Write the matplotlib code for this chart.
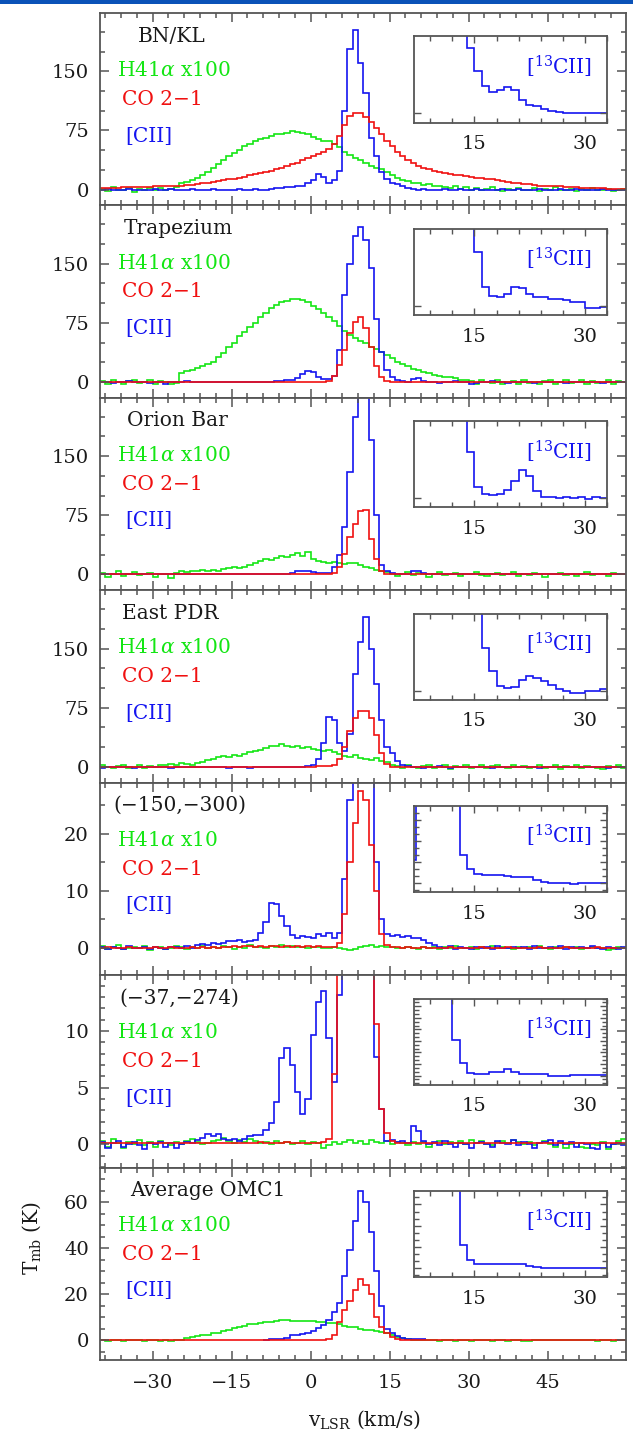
import numpy as np
import matplotlib.pyplot as plt
from matplotlib.ticker import MultipleLocator
from matplotlib.patches import Rectangle

plt.rcParams['font.family'] = ['DejaVu Serif']
plt.rcParams['mathtext.fontset'] = 'dejavuserif'

# channel edges in km/s (1 km/s channels)
vel_edges = np.arange(-40, 61)
inset_edges = np.arange(6, 34)

# ---------------- BN/KL ----------------
bnkl_h41 = [1, -2, 3, 0, -1, 2, -3, 1, 0, 2,
            -1, 2, 0, 1, 3, 8, 10, 12, 15, 18,
            22, 27, 33, 38, 43, 46, 50, 55, 58, 62,
            64, 66, 68, 70, 71, 72, 74, 73, 72, 70,
            67, 64, 62, 62, 58, 54, 48, 44, 40, 38,
            34, 30, 28, 26, 22, 18, 15, 12, 11, 9,
            8, 6, 7, 4, 5, 3, 2, 4, 1, 3,
            0, 2, -1, 1, 3, 0, -2, 1, 0, 2,
            -1, 0, 2, -2, 1, 0, 3, -1, 0, 1,
            -2, 1, 0, 2, -1, 0, 1, -2, 0, 1]
bnkl_co = [2, 2, 2, 2, 3, 3, 3, 3, 3, 3,
           4, 4, 4, 5, 5, 5, 6, 6, 7, 8,
           9, 10, 11, 12, 13, 14, 15, 16, 18, 20,
           21, 22, 24, 26, 28, 30, 32, 34, 37, 40,
           42, 45, 48, 52, 58, 68, 82, 93, 97, 97,
           92, 86, 78, 70, 62, 55, 48, 42, 38, 34,
           30, 28, 26, 24, 22, 21, 20, 19, 18, 17,
           16, 15, 15, 14, 13, 12, 11, 10, 9, 8,
           7, 7, 6, 5, 5, 4, 4, 4, 3, 3,
           3, 2, 2, 2, 2, 2, 1, 1, 1, 1]
bnkl_cii = [0, 1, 0, -1, 0, 1, 0, 0, -1, 0,
            1, 0, 0, 1, -1, 0, 0, 1, 0, 0,
            0, 1, 0, 0, -1, 0, 1, 0, 0, 1,
            0, 0, 1, 2, 2, 3, 3, 4, 5, 8,
            12, 20, 16, 8, 12, 24, 100, 178, 203, 160,
            122, 65, 42, 22, 13, 8, 7, 4, 2, 1,
            0, 1, 0, -1, 0, 1, 0, 0, 1, -1,
            0, 1, 0, 0, -1, 0, 1, 0, 0, 1,
            0, -1, 0, 1, 0, 0, -1, 1, 0, 0,
            1, 0, 0, -1, 0, 1, 0, 0, -1, 0]
bnkl_c13 = [100, 178, 203, 160, 122, 65, 42, 22, 8.5, 5.5,
            3.6, 2.8, 3.0, 3.4, 3.0, 1.8, 1.1, 0.9, 0.6, 0.3,
            0.2, 0.1, 0.1, 0.0, 0.1, 0.05, 0.1]

# ---------------- Trapezium ----------------
trap_h41 = [1, -2, 2, 0, -3, 1, 2, -1, 0, 3,
            -2, 1, 0, -3, -1, 12, 14, 15, 18, 20,
            23, 25, 32, 37, 44, 50, 58, 64, 70, 75,
            82, 88, 94, 98, 101, 103, 105, 105, 104, 101,
            97, 92, 87, 83, 77, 71, 65, 60, 56, 52,
            49, 45, 42, 38, 34, 30, 26, 23, 20, 17,
            15, 13, 11, 9, 8, 7, 6, 5, 3, 2,
            1, -2, 2, 0, -1, 3, -2, 0, 1, -3,
            2, -1, 0, -3, 1, 2, -2, 0, 3, -1,
            0, 2, -2, 1, -1, 0, 3, -2, 1, 0]
trap_co = [0, 0, 0, 0, 0, 0, 0, 0, 0, 0,
           0, 0, 0, 0, 0, 0, 0, 0, 0, 0,
           0, 0, 0, 0, 0, 0, 0, 0, 0, 0,
           0, 0, 0, 0, 0, 0, 0, 0, 0, 0,
           0, 0, 0, 1, 8, 22, 40, 62, 76, 82,
           68, 45, 20, 7, 1, 0, 0, 0, 0, 0,
           0, 0, 0, 0, 0, 0, 0, 0, 0, 0,
           0, 0, 0, 0, 0, 0, 0, 0, 0, 0,
           0, 0, 0, 0, 0, 0, 0, 0, 0, 0,
           0, 0, 0, 0, 0, 0, 0, 0, 0, 0]
trap_cii = [0, 0, -1, 0, 0, 1, 0, 0, 0, -1,
            0, 0, -2, 0, 0, 0, 1, 0, 0, 0,
            0, 0, 0, 0, 0, 0, 0, 0, 0, 0,
            0, 0, 0, 1, 1, 2, 3, 5, 10, 14,
            13, 6, 4, 4, 8, 40, 110, 150, 185, 196,
            180, 145, 80, 38, 15, 7, 2, 1, 0, 4,
            5, 1, 0, 0, -1, 0, 0, 1, 0, 0,
            -2, -1, 0, 0, 1, 0, 0, -1, 0, 0,
            0, 0, -1, 0, 0, 0, 0, 0, -1, 0,
            0, 0, 0, 0, 0, -1, 0, 0, 0, 0]
trap_c13 = [110, 150, 185, 196, 180, 145, 80, 38, 12, 7.0,
            2.5, 1.3, 1.2, 1.6, 2.5, 2.3, 1.6, 1.2, 1.1, 0.9,
            0.85, 0.8, 0.55, 0.5, -0.3, -0.3, -0.1]

# ---------------- Orion Bar ----------------
bar_h41 = [2, -3, 0, 4, -2, 1, 3, -1, 0, 2,
           -3, 0, 1, -4, 2, 5, 3, 5, 4, 6,
           5, 6, 4, 7, 8, 9, 8, 10, 12, 14,
           17, 19, 18, 21, 24, 22, 25, 27, 23, 28,
           20, 17, 16, 15, 16, 14, 13, 15, 14, 12,
           10, 8, 6, 5, 3, 1, -2, 0, 3, -1,
           2, 0, -3, 1, 3, -1, 0, 2, -2, 1,
           0, 3, -1, -2, 1, 2, -1, 0, 3, -2,
           1, -1, 2, 0, -3, 1, 0, 2, -1, 1,
           -2, 0, 3, -1, 1, 0, -2, 2, 0, 1]
bar_co = [0, 0, 0, 0, 0, 0, 0, 0, 0, 0,
          0, 0, 0, 0, 0, 0, 0, 0, 0, 0,
          0, 0, 0, 0, 0, 0, 0, 0, 0, 0,
          0, 0, 0, 0, 0, 0, 0, 0, 0, 0,
          0, 0, 0, 0, 2, 9, 26, 47, 64, 80,
          82, 45, 20, 4, 0, 0, 0, 0, 0, 0,
          0, 0, 0, 0, 0, 0, 0, 0, 0, 0,
          0, 0, 0, 0, 0, 0, 0, 0, 0, 0,
          0, 0, 0, 0, 0, 0, 0, 0, 0, 0,
          0, 0, 0, 0, 0, 0, 0, 0, 0, 0]
bar_cii = [0, 0, 0, 0, 0, 0, 0, 0, 0, 0,
           0, 0, 0, 0, 0, 0, 0, 0, 0, 0,
           0, 0, 0, 0, 0, 0, 0, 0, 0, 0,
           0, 0, 0, 0, 0, 1, 2, 4, 5, 5,
           3, 2, 2, 2, 9, 25, 60, 130, 200, 300,
           320, 170, 75, 12, 5, 2, 1, 0, 0, 4,
           5, 2, 0, 0, 0, 0, 0, 0, 0, 0,
           0, 0, 0, 0, 0, 0, 0, 0, 0, 0,
           0, 0, 0, 0, 0, 0, 0, 0, 0, 0,
           0, 0, 0, 0, 0, 0, 0, 0, 0, 0]
bar_c13 = [60, 130, 200, 300, 320, 170, 75, 12, 6.0, 1.5,
           0.6, 0.45, 0.5, 1.1, 2.2, 3.7, 2.9, 1.0, 0.1, 0.2,
           0.0, 0.15, 0.0, 0.1, -0.1, 0.1, 0.0]

# ---------------- East PDR ----------------
east_h41 = [2, 0, -2, 1, 3, -1, 0, 2, -2, 1,
            0, 3, 2, 4, 3, 5, 4, 3, 5, 6,
            9, 10, 12, 14, 13, 15, 14, 16, 19, 20,
            21, 24, 27, 26, 29, 27, 25, 26, 24, 25,
            23, 22, 20, 21, 19, 16, 14, 13, 15, 11,
            10, 9, 11, 8, 6, 3, 1, -1, 2, 0,
            -2, 1, 3, -1, 0, 2, -3, 1, 0, 2,
            -1, 0, 2, -2, 1, 3, 0, -1, 2, 0,
            1, -2, 0, 3, -1, 0, 2, -3, 1, 0,
            2, -1, 1, 0, -2, -3, 1, 0, 2, -1]
east_co = [0, 0, 0, 0, 0, 0, 0, 0, 0, 0,
           0, 0, 0, 0, 0, 0, 0, 0, 0, 0,
           0, 0, 0, 0, 0, 0, 0, 0, 0, 0,
           0, 0, 0, 0, 0, 0, 0, 0, 0, 0,
           0, 1, 1, 1, 3, 10, 25, 45, 62, 71,
           71, 62, 40, 18, 4, 0, 0, 0, 0, 0,
           0, 0, 0, 0, 0, 0, 0, 0, 0, 0,
           0, 0, 0, 0, 0, 0, 0, 0, 0, 0,
           0, 0, 0, 0, 0, 0, 0, 0, 0, 0,
           0, 0, 0, 0, 0, 0, 0, 0, 0, 0]
east_cii = [-1, 0, 0, 0, 0, 0, -1, 0, 0, 0,
            0, 0, 0, -1, 0, 0, 0, 0, 0, 0,
            0, 0, 0, 0, -1, 0, 0, 0, -1, 0,
            0, 0, 0, 0, 0, 0, 0, 0, 0, 1,
            3, 10, 30, 63, 60, 30, 20, 42, 118, 158,
            190, 150, 105, 60, 25, 18, 7, 2, 1, 0,
            0, -1, 0, 0, 1, 0, -1, 0, 0, 0,
            0, 0, 0, 0, -1, 0, 0, 0, 0, 0,
            0, 0, 0, -1, 0, 0, 0, 0, 0, 0,
            0, 0, 0, 0, 0, 0, -1, 0, 0, 0]
east_c13 = [20, 42, 118, 158, 190, 150, 105, 60, 25, 12,
            5.5, 2.6, 0.6, 0.3, 0.5, 1.4, 1.9, 1.6, 1.3, 0.8,
            0.2, 0.0, -0.3, -0.3, -0.1, 0.0, 0.2]

# ---------------- (-150,-300) ----------------
p150_h41 = [0.3, -0.2, 0.1, 0.4, -0.3, 0.0, 0.2, -0.1, 0.3, -0.4,
            0.1, 0.2, -0.3, 0.0, 0.3, 0.1, -0.2, 0.2, 0.0, 0.3,
            -0.1, 0.2, 0.0, 0.3, 0.1, -0.2, 0.2, 0.0, 0.4, 0.1,
            0.2, 0.0, 0.3, 0.1, 0.4, 0.2, 0.3, 0.1, 0.2, 0.0,
            0.1, 0.2, 0.0, -0.1, 0.1, 0.0, -0.3, -0.4, -0.2, 0.1,
            0.3, 0.4, 0.2, 0.3, 0.1, 0.2, 0.0, -0.1, 0.2, 0.0,
            -0.2, 0.1, 0.0, 0.2, -0.3, 0.1, 0.0, 0.3, -0.1, 0.0,
            0.2, -0.2, 0.1, 0.0, 0.3, -0.1, 0.2, 0.0, -0.3, 0.1,
            0.0, 0.2, -0.1, 0.3, 0.0, -0.2, 0.1, 0.0, 0.2, -0.1,
            0.1, -0.3, 0.0, 0.2, -0.1, 0.0, -0.4, -0.2, 0.1, 0.0]
p150_co = [0.0, 0.1, 0.0, -0.1, 0.0, 0.1, 0.0, 0.0, -0.1, 0.0,
           0.1, 0.0, 0.0, 0.1, -0.1, 0.0, 0.0, 0.1, 0.0, 0.1,
           0.0, 0.1, 0.0, 0.2, 0.1, 0.3, 0.2, 0.3, 0.3, 0.2,
           0.3, 0.2, 0.3, 0.3, 0.2, 0.3, 0.2, 0.3, 0.2, 0.3,
           0.2, 0.3, 0.2, 0.1, 0.2, 0.8, 6.0, 15.0, 22.0, 27.5,
           26.0, 18.0, 10.0, 2.5, 0.5, 0.2, 0.1, 0.0, 0.1, 0.0,
           0.0, 0.1, 0.0, -0.1, 0.0, 0.0, 0.1, 0.0, 0.0, -0.1,
           0.0, 0.0, 0.1, 0.0, -0.1, 0.0, 0.0, 0.1, 0.0, 0.0,
           -0.1, 0.0, 0.0, 0.1, 0.0, 0.0, -0.1, 0.0, 0.1, 0.0,
           0.0, -0.1, 0.0, 0.0, 0.1, 0.0, 0.0, -0.1, 0.0, 0.0]
p150_cii = [0.2, -0.3, 0.1, 0.0, -0.2, 0.3, 0.0, -0.1, 0.2, -0.3,
            0.1, 0.0, -0.2, 0.2, 0.1, -0.1, 0.3, 0.0, 0.4, 0.6,
            0.5, 0.8, 0.6, 0.9, 1.2, 1.1, 1.3, 1.0, 1.2, 1.4,
            2.6, 4.5, 7.8, 7.6, 5.5, 3.8, 2.3, 1.8, 2.0, 1.9,
            1.8, 2.4, 2.1, 2.6, 1.7, 2.6, 12.0, 26.0, 40.0, 44.0,
            42.0, 32.0, 15.0, 5.0, 2.5, 2.0, 2.2, 1.9, 2.1, 1.8,
            1.7, 1.4, 0.8, 0.5, 0.2, 0.0, 0.3, -0.2, 0.1, 0.0,
            -0.3, 0.2, 0.0, 0.1, -0.2, 0.3, 0.0, -0.1, 0.2, 0.0,
            0.1, -0.2, 0.3, 0.0, -0.1, 0.2, 0.0, 0.3, -0.2, 0.1,
            0.0, 0.2, -0.1, 0.3, 0.0, -0.2, 0.1, 0.0, -0.3, 0.2]
p150_c13 = [3.0, 26, 40, 44, 42, 32, 11, 3.6, 1.8, 1.2,
            1.0, 1.0, 1.0, 0.9, 0.8, 0.8, 0.8, 0.4, 0.1, 0.0,
            0.05, 0.0, -0.1, 0.0, 0.05, 0.0, 0.05]

# ---------------- (-37,-274) ----------------
p37_h41 = [0.3, -0.2, 0.5, 0.1, -0.3, 0.2, 0.0, 0.4, -0.1, 0.2,
           -0.2, 0.3, 0.1, -0.1, 0.2, 0.0, 0.3, 0.5, 0.2, 0.0,
           0.1, 0.3, 0.4, 0.6, 0.3, 0.1, 0.4, 0.2, 0.5, 0.3,
           0.1, 0.2, 0.0, 0.3, 0.1, 0.2, 0.0, 0.1, 0.3, 0.0,
           0.2, 0.1, -0.3, -0.1, 0.2, 0.0, 0.2, 0.4, 0.1, 0.3,
           0.0, 0.4, 0.2, 0.1, 0.3, 0.0, 0.2, 0.1, -0.1, 0.2,
           0.0, 0.2, -0.2, 0.1, 0.3, 0.0, 0.2, 0.1, 0.3, 0.0,
           0.4, 0.1, 0.3, 0.0, -0.1, 0.2, 0.3, 0.1, 0.4, 0.2,
           0.0, 0.2, -0.1, 0.1, 0.3, 0.0, -0.2, 0.1, -0.3, 0.0,
           0.1, -0.2, -0.3, 0.0, -0.1, 0.2, -0.4, 0.0, 0.3, 0.5]
p37_co = [0.1, 0.1, 0.1, 0.1, 0.1, 0.1, 0.1, 0.1, 0.1, 0.1,
          0.1, 0.1, 0.1, 0.1, 0.1, 0.1, 0.1, 0.1, 0.1, 0.1,
          0.1, 0.1, 0.1, 0.1, 0.1, 0.1, 0.1, 0.1, 0.15, 0.15,
          0.2, 0.15, 0.15, 0.1, 0.15, 0.2, 0.15, 0.15, 0.1, 0.15,
          0.15, 0.15, 0.2, 0.45, 6.2, 30, 55, 70, 75, 72,
          60, 35, 10.6, 3.1, 1.0, 0.3, 0.15, 0.1, 0.1, 0.1,
          0.1, 0.1, 0.1, 0.1, 0.1, 0.1, 0.1, 0.1, 0.1, 0.1,
          0.1, 0.1, 0.1, 0.1, 0.1, 0.1, 0.1, 0.1, 0.1, 0.1,
          0.1, 0.1, 0.1, 0.1, 0.1, 0.1, 0.1, 0.1, 0.1, 0.1,
          0.1, 0.1, 0.1, 0.1, 0.1, 0.1, 0.1, 0.1, 0.1, 0.1]
p37_cii = [0.2, -0.3, 0.1, 0.3, -0.2, 0.0, 0.2, -0.1, -0.4, 0.1,
           0.0, 0.2, -0.2, 0.1, -0.3, 0.0, 0.2, 0.1, 0.4, 0.6,
           0.9, 0.7, 0.9, 0.5, 0.4, 0.5, 0.3, 0.5, 0.7, 0.8,
           0.8, 1.3, 1.9, 3.7, 7.6, 8.5, 7.0, 4.6, 2.7, 4.0,
           9.7, 12.6, 13.5, 9.4, 5.5, 13.2, 30, 60, 80, 90,
           85, 40, 7.7, 3.1, 0.3, 0.4, 0.2, 0.3, 0.1, 1.6,
           1.2, 0.3, 0.0, 0.2, -0.1, 0.3, 0.0, -0.2, 0.1, 0.0,
           -0.3, 0.1, 0.2, 0.0, -0.2, 0.3, 0.1, 0.0, 0.4, -0.1,
           0.2, 0.0, -0.3, 0.1, 0.2, 0.4, -0.1, 0.3, 0.0, 0.2,
           -0.2, 0.1, 0.0, -0.3, -0.4, 0.1, -0.2, 0.0, 0.1, -0.1]
p37_c13 = [30, 55, 70, 75, 72, 50, 4.6, 1.6, 0.3, 0.2,
           0.2, 0.45, 0.5, 0.9, 0.5, 0.2, 0.2, 0.25, 0.2, 0.0,
           0.0, -0.05, 0.1, 0.1, 0.05, 0.1, 0.1]

# ---------------- Average OMC1 ----------------
nan = np.nan
avg_h41 = [0.0, -0.3, 0.0, 0.0, -0.3, 0.0, 0.0, 0.0, -0.3, 0.0,
           0.0, -0.3, 0.0, -0.3, 0.0, 0.3, 1.0, 1.3, 1.8, 2.2,
           2.5, 3.0, 3.4, 4.0, 4.6, 5.3, 6.0, 6.4, 7.0, 7.2,
           7.6, 8.0, 8.0, 8.3, 8.8, 9.0, 8.4, 8.6, 8.2, 8.4,
           8.3, 8.1, 7.8, 7.6, 7.6, 7.2, 6.2, 6.0, 5.8, 4.8,
           4.6, 4.4, 4.2, 3.6, 3.4, 2.5, 1.6, 1.0, 0.5, 0.2,
           0.0, 0.0, 0.2, 0.0, -0.3, 0.0, 0.0, -0.3, 0.0, 0.0,
           -0.3, 0.0, 0.0, 0.0, -0.3, 0.0, 0.0, -0.3, 0.0, 0.0,
           -0.3, -0.3, 0.0, 0.0, 0.0, 0.0, 0.0, 0.0, 0.3, 0.0,
           0.0, 0.0, 0.0, 0.0, -0.3, 0.0, 0.0, -0.3, 0.0, 0.0]
avg_co = [0.0] * 43 + [0.8, 2.5, 8.0, 13.0, 17.0, 22.0, 26.5,
                       24.0, 20.0, 10.0, 6.0, 3.0, 1.5, 0.5] + [0.0] * 43
avg_cii = [nan] * 31 + [0.3, 0.4, 0.6, 0.8, 1.2, 2.3, 2.5, 2.6, 3.2,
                        4.2, 5.4, 6.5, 9.0, 12.5, 16.0, 28.0, 39.0, 52.0, 65.0,
                        60.0, 47.0, 30.0, 15.0, 5.0, 3.0, 1.8, 1.0, 0.8, 0.8,
                        0.8, 0.8] + [nan] * 38
avg_c13 = [28, 39, 52, 65, 60, 47, 14, 3.0, 1.0, 0.5,
           0.45, 0.45, 0.45, 0.5, 0.5, 0.45, 0.2, 0.1, 0, 0,
           0, 0, 0, 0, 0, 0, 0]

names = ['BN/KL', 'Trapezium', 'Orion Bar', 'East PDR',
         '(\u2212150,\u2212300)', '(\u221237,\u2212274)', 'Average OMC1']
h41_labels = ['H41$\\alpha$ x100'] * 4 + ['H41$\\alpha$ x10'] * 2 + ['H41$\\alpha$ x100']
h41_data = [bnkl_h41, trap_h41, bar_h41, east_h41, p150_h41, p37_h41, avg_h41]
co_data = [bnkl_co, trap_co, bar_co, east_co, p150_co, p37_co, avg_co]
cii_data = [bnkl_cii, trap_cii, bar_cii, east_cii, p150_cii, p37_cii, avg_cii]
c13_data = [bnkl_c13, trap_c13, bar_c13, east_c13, p150_c13, p37_c13, avg_c13]

# axis layout per panel: (ymin, ymax, major, minor)
ylims = [(-20, 224, 75, 25), (-20, 224, 75, 25), (-20, 224, 75, 25), (-20, 224, 75, 25),
         (-4.8, 29, 10, 5), (-2.05, 14.95, 5, 1), (-8.5, 75, 20, 5)]
name_x = [0.072, 0.046, 0.052, 0.042, 0.025, 0.036, 0.057]
inset_ystep = [None, None, None, None, 2.75, 1.5, 2.75]

GREEN = '#14e614'
RED = '#f01010'
BLUE = '#1414f0'
FRAME = '#555555'

fig = plt.figure(figsize=(6.33, 14.4), dpi=100)
gs = fig.add_gridspec(7, 1, left=0.158, right=0.989, top=0.991, bottom=0.0556, hspace=0)
axes = [fig.add_subplot(gs[i]) for i in range(7)]

fig.add_artist(Rectangle((0, 1 - 3.5 / 1440), 1, 3.5 / 1440, transform=fig.transFigure,
                         color='#0a52b8', lw=0))

for i, ax in enumerate(axes):
    ax.stairs(h41_data[i], vel_edges, color=GREEN, lw=1.2, baseline=None)
    ax.stairs(cii_data[i], vel_edges, color=BLUE, lw=1.2, baseline=None)
    ax.stairs(co_data[i], vel_edges, color=RED, lw=1.2, baseline=None)

    ymin, ymax, major, minor = ylims[i]
    ax.set_xlim(-40, 59.9)
    ax.set_ylim(ymin, ymax)
    ax.xaxis.set_major_locator(MultipleLocator(15))
    ax.xaxis.set_minor_locator(MultipleLocator(3))
    ax.yaxis.set_major_locator(MultipleLocator(major))
    ax.yaxis.set_minor_locator(MultipleLocator(minor))
    ax.tick_params(which='both', direction='in', top=True, right=True,
                   color=FRAME, width=1.1, labelsize=14, labelcolor='#1a1a1a')
    ax.tick_params(which='major', length=6.5)
    ax.tick_params(which='minor', length=3.5)
    ax.tick_params(axis='y', pad=8)
    ax.tick_params(axis='x', pad=10, labelbottom=(i == 6))
    for s in ax.spines.values():
        s.set_color(FRAME)
        s.set_linewidth(1.3)

    ax.text(name_x[i], 0.88, names[i], transform=ax.transAxes, fontsize=14.5,
            color='#1a1a1a', va='center', ha='left')
    ax.text(0.032, 0.70, h41_labels[i], transform=ax.transAxes, fontsize=14.5,
            color=GREEN, va='center', ha='left')
    ax.text(0.042, 0.55, 'CO 2\u22121', transform=ax.transAxes, fontsize=14.5,
            color=RED, va='center', ha='left')
    ax.text(0.048, 0.36, '[CII]', transform=ax.transAxes, fontsize=14.5,
            color=BLUE, va='center', ha='left')

    ins = ax.inset_axes([0.597, 0.43, 0.367, 0.448])
    ins.set_facecolor('white')
    ins.stairs(c13_data[i], inset_edges, color=BLUE, lw=1.2, baseline=None)
    ins.set_xlim(6.8, 33)
    ins.set_ylim(-1.2, 10)
    ins.set_xticks([15, 30])
    ins.xaxis.set_minor_locator(MultipleLocator(3))
    if inset_ystep[i] is None:
        ins.set_yticks([0])
    else:
        ins.yaxis.set_major_locator(MultipleLocator(inset_ystep[i]))
        ins.yaxis.set_minor_locator(MultipleLocator(inset_ystep[i] / 3))
    ins.tick_params(which='both', direction='in', top=True, right=True, color=FRAME,
                    width=1.0, labelsize=14, labelleft=False, labelright=False,
                    labeltop=False, labelcolor='#1a1a1a')
    ins.tick_params(which='major', length=5)
    ins.tick_params(which='minor', length=3.5)
    ins.tick_params(axis='x', pad=9)
    for s in ins.spines.values():
        s.set_color(FRAME)
        s.set_linewidth(1.3)
    ins.text(0.92, 0.65, '[$^{13}$CII]', transform=ins.transAxes, fontsize=14.5,
             color=BLUE, va='center', ha='right')

fig.text(0.05, 0.14, 'T$_{\\rm mb}$ (K)', rotation=90, fontsize=14.5,
         va='center', ha='center', color='#1a1a1a')
fig.text(0.576, 0.014, 'v$_{\\rm LSR}$ (km/s)', fontsize=14.5,
         va='center', ha='center', color='#1a1a1a')

fig.savefig('out.png', dpi=100)
